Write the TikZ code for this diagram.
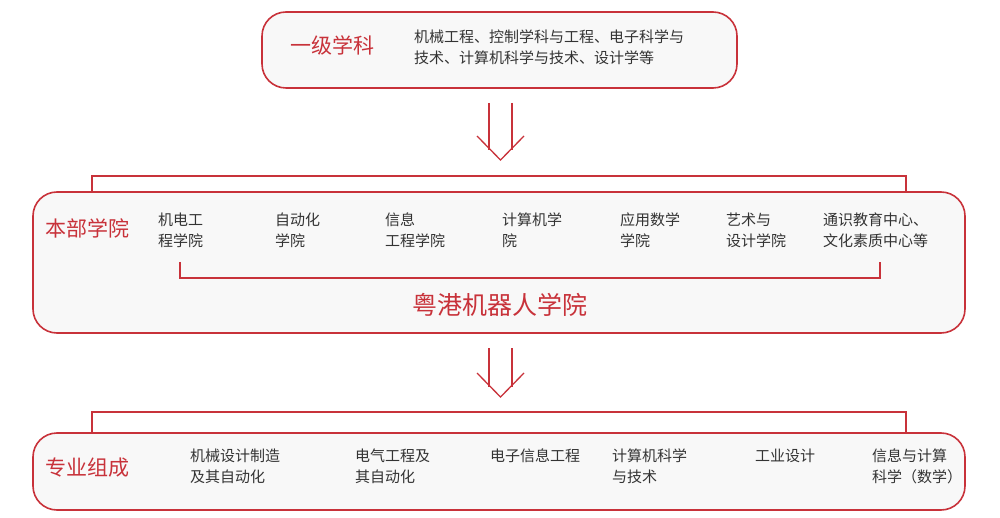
\documentclass[tikz,border=0pt]{standalone}
\usepackage{fontspec}
\setmainfont{Noto Sans CJK SC}
\definecolor{myred}{HTML}{C8323A}
\definecolor{mygray}{HTML}{333333}
\definecolor{boxfill}{HTML}{F8F8F8}
\begin{document}
\begin{tikzpicture}[x=1pt,y=-1pt,
  boxst/.style={draw=myred,line width=1.6pt,fill=boxfill,rounded corners=24pt},
  lnst/.style={draw=myred,line width=1.3pt},
  title/.style={text=myred,font=\fontsize{21}{24}\selectfont,anchor=west,inner sep=0},
  item/.style={text=mygray,font=\fontsize{15}{21}\selectfont,anchor=north west,align=left,inner sep=0}]
\useasboundingbox (0,0) rectangle (1000,518);
% top
\draw[boxst] (262,12) rectangle (737,88);
\node[title] (t1) at (290,45) {一级学科};
\node[item] (t1d) at (414,30) {机械工程、控制学科与工程、电子科学与\\技术、计算机科学与技术、设计学等};
% arrow 1
\coordinate (a1) at (489,103); \coordinate (a2) at (512,103);
\coordinate (a3) at (489,150); \coordinate (a4) at (512,150);
\draw[lnst] (a1)--(a3) (a2)--(a4);
\coordinate (v1) at (477,136); \coordinate (v2) at (500.5,160); \coordinate (v3) at (524,136);
\draw[lnst] (v1)--(v2)--(v3);
% bracket 1
\coordinate (b1) at (92,192); \coordinate (b2) at (92,176); \coordinate (b3) at (906,176); \coordinate (b4) at (906,192);
\draw[lnst] (b1)--(b2)--(b3)--(b4);
% middle
\draw[boxst] (33,192) rectangle (965,333);
\node[title] (t2) at (45,228) {本部学院};
\foreach \x/\t [count=\i] in {158/{机电工\\程学院},275/{自动化\\学院},385/{信息\\工程学院},502/{计算机学\\院},620/{应用数学\\学院},726/{艺术与\\设计学院},823/{通识教育中心、\\文化素质中心等}}
  \node[item] (c\i) at (\x,213) {\t};
\coordinate (i1) at (180,262); \coordinate (i2) at (180,278); \coordinate (i3) at (880,278); \coordinate (i4) at (880,262);
\draw[lnst] (i1)--(i2)--(i3)--(i4);
\node[text=myred,font=\fontsize{25}{28}\selectfont,inner sep=0] (yg) at (500,305) {粤港机器人学院};
% arrow 2
\coordinate (d1) at (489,348); \coordinate (d2) at (512,348);
\coordinate (d3) at (489,387); \coordinate (d4) at (512,387);
\draw[lnst] (d1)--(d3) (d2)--(d4);
\coordinate (w1) at (477,373); \coordinate (w2) at (500.5,397); \coordinate (w3) at (524,373);
\draw[lnst] (w1)--(w2)--(w3);
% bracket 2
\coordinate (e1) at (92,433); \coordinate (e2) at (92,412); \coordinate (e3) at (906,412); \coordinate (e4) at (906,433);
\draw[lnst] (e1)--(e2)--(e3)--(e4);
% bottom
\draw[boxst] (33,433) rectangle (965,510);
\node[title] (t3) at (45,468) {专业组成};
\foreach \x/\t [count=\i] in {190/{机械设计制造\\及其自动化},355/{电气工程及\\其自动化},490/{电子信息工程},612/{计算机科学\\与技术},755/{工业设计},872/{信息与计算\\科学（数学）}}
  \node[item] (m\i) at (\x,449) {\t};
\end{tikzpicture}
\end{document}
